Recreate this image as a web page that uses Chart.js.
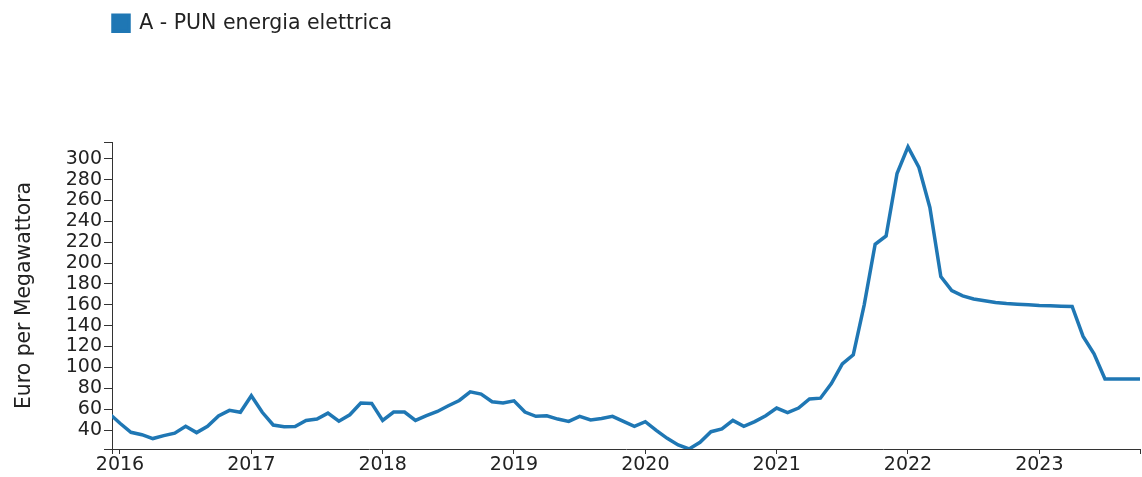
<!DOCTYPE html>
<html lang="it">
<head>
    <meta charset="UTF-8">
    <title>A - PUN energia elettrica</title>
    <script src="https://cdn.jsdelivr.net/npm/chart.js"></script>
    <style>
        body {
            margin: 0;
            background-color: #fff;
        }
        canvas {
            display: block;
        }
    </style>
</head>
<body>
    <canvas id="punChart" width="1142" height="477"></canvas>

    <script>
        // mesi (primo del mese), da dicembre 2015 a novembre 2023
        const primoAnno = 2015;
        const primoMese = 12;
        // valori in Euro per Megawattora, una riga per anno
        const valori = [
            56,
            46.5, 37.8, 35.5, 31.8, 34.6, 37.0, 43.5, 37.5, 43.5, 53.5, 58.8, 57.0,
            72.8, 57.0, 44.8, 43.2, 43.3, 49.2, 50.5, 56.2, 48.4, 54.6, 65.8, 65.5,
            49.2, 57.2, 57.2, 49.2, 53.7, 57.8, 63.2, 68.3, 76.6, 74.4, 67.1, 65.8,
            68.0, 57.2, 53.1, 53.7, 50.5, 48.3, 53.1, 49.6, 51.1, 53.1, 48.3, 43.5,
            48.0, 39.7, 32.0, 25.7, 21.8, 28.2, 38.4, 41.0, 49.2, 43.5, 48.0, 53.7,
            61.0, 56.7, 61.0, 69.8, 70.5, 84.5, 103.3, 112.1, 160.0, 218.0, 225.9, 285.8,
            311.3, 291.6, 253.3, 187.0, 173.6, 168.5, 165.6, 163.8, 162.2, 161.2, 160.6, 160.0,
            159.3, 159.0, 158.7, 158.4, 129.7, 113.1, 88.9, 88.9, 88.9, 88.9, 88.9
        ];
        const anni = [2016, 2017, 2018, 2019, 2020, 2021, 2022, 2023];
        const tickY = [40, 60, 80, 100, 120, 140, 160, 180, 200, 220, 240, 260, 280, 300];

        const minY = 21.8;
        const maxY = 316;
        const minX = -0.73;   // mesi rispetto a gennaio 2016
        const maxX = 93.2;

        const punti = valori.map((v, i) => ({
            x: (primoAnno - anni[0]) * 12 + (primoMese - 1) + i,
            y: v
        }));

        const colore = '#1f77b4';
        const testo = '#222';
        const assi = '#333';

        // spazio sotto la legenda e legenda allineata all'asse
        const legendaPlugin = {
            id: 'legendaPlugin',
            beforeInit(chart) {
                const fitOrig = chart.legend.fit;
                chart.legend.fit = function () {
                    fitOrig.call(this);
                    this.height = 142;
                };
            },
            afterLayout(chart) {
                chart.legend.left = 100;
            }
        };

        new Chart(document.getElementById('punChart'), {
            type: 'line',
            data: {
                datasets: [{
                    label: 'A - PUN energia elettrica',
                    data: punti,
                    borderColor: colore,
                    backgroundColor: colore,
                    borderWidth: 3.5,
                    pointRadius: 0,
                    tension: 0
                }]
            },
            options: {
                responsive: false,
                animation: false,
                layout: { padding: 0 },
                plugins: {
                    legend: {
                        position: 'top',
                        align: 'start',
                        labels: {
                            boxWidth: 16,
                            boxHeight: 16,
                            padding: 13,
                            color: testo,
                            font: { family: 'DejaVu Sans', size: 20.5 }
                        }
                    },
                    tooltip: { enabled: false }
                },
                scales: {
                    x: {
                        type: 'linear',
                        min: minX,
                        max: maxX,
                        afterBuildTicks(scale) {
                            const t = [minX].concat(anni.map(a => (a - anni[0]) * 12), [maxX]);
                            scale.ticks = t.map(v => ({ value: v }));
                        },
                        afterFit(scale) {
                            scale.height = 28;
                        },
                        ticks: {
                            autoSkip: false,
                            maxRotation: 0,
                            padding: 2,
                            color: testo,
                            font: { family: 'DejaVu Sans', size: 19, lineHeight: 1 },
                            callback(value) {
                                if (value % 12 !== 0) return '';
                                return String(anni[0] + value / 12);
                            }
                        },
                        grid: {
                            drawOnChartArea: false,
                            drawTicks: true,
                            tickLength: 5,
                            color: assi
                        },
                        border: { display: true, color: assi, width: 1 }
                    },
                    y: {
                        min: minY,
                        max: maxY,
                        afterBuildTicks(scale) {
                            const t = [minY].concat(tickY, [maxY]);
                            scale.ticks = t.map(v => ({ value: v }));
                        },
                        afterFit(scale) {
                            scale.width = 112;
                        },
                        title: {
                            display: true,
                            text: 'Euro per Megawattora',
                            color: testo,
                            font: { family: 'DejaVu Sans', size: 20.4 },
                            padding: { top: 12, bottom: 0 }
                        },
                        ticks: {
                            autoSkip: false,
                            padding: 2,
                            color: testo,
                            font: { family: 'DejaVu Sans', size: 19, lineHeight: 1 },
                            callback(value) {
                                return tickY.includes(value) ? String(value) : '';
                            }
                        },
                        grid: {
                            drawOnChartArea: false,
                            drawTicks: true,
                            tickLength: 8,
                            color: assi
                        },
                        border: { display: true, color: assi, width: 1 }
                    }
                }
            },
            plugins: [legendaPlugin]
        });
    </script>
</body>
</html>
